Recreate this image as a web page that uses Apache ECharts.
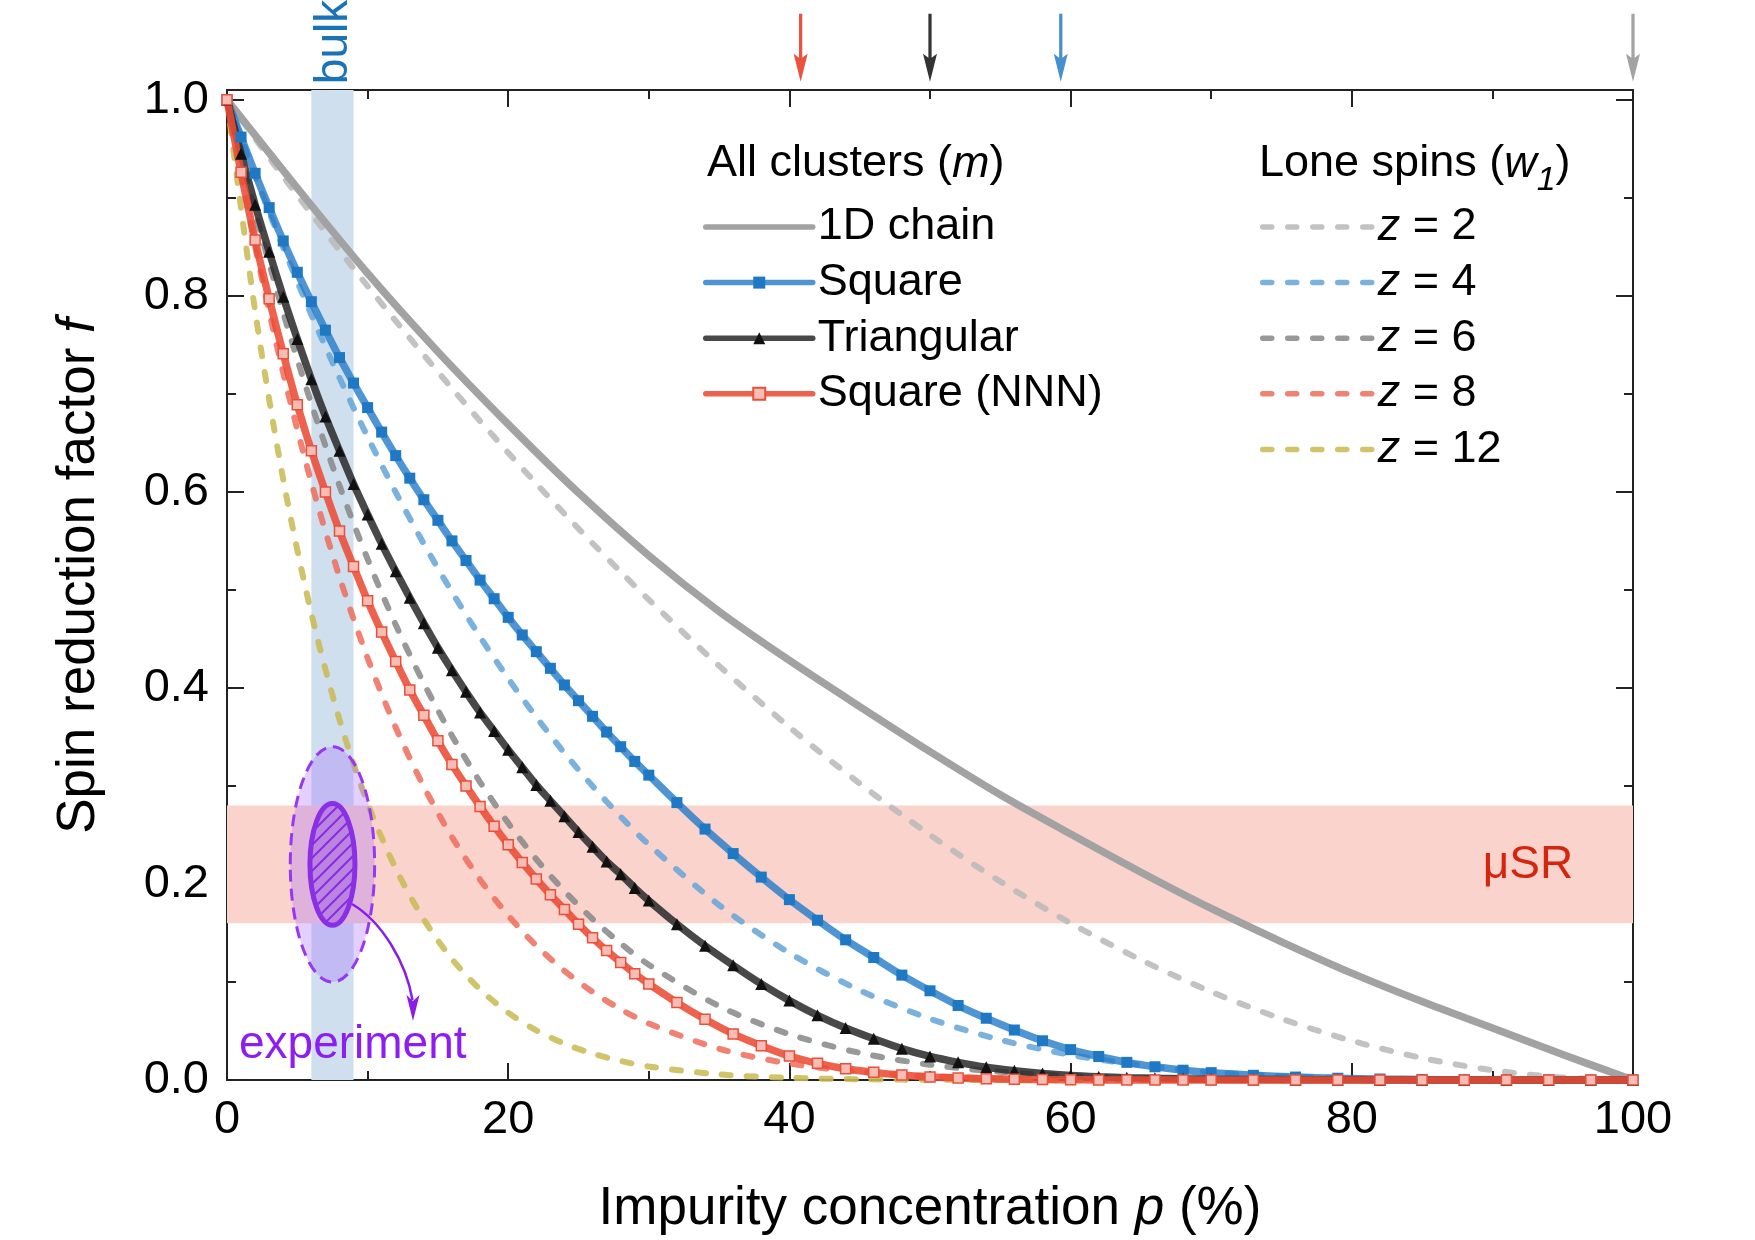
<!DOCTYPE html>
<html>
<head>
<meta charset="utf-8">
<script src="https://cdn.jsdelivr.net/npm/echarts@6.0.0/dist/echarts.min.js"></script>
<style>
html,body{margin:0;padding:0;background:#ffffff;}
#chart{width:1755px;height:1240px;}
</style>
</head>
<body>
<div id="chart"></div>
<script>
// ---------------- values ----------------
// impurity concentration p (%) of the marked "all clusters" curves
const pMarked = [0,1,2,3,4,5,6,7,8,9,10,11,12,13,14,15,16,17,18,19,20,21,22,23,24,25,26,27,28,29,30,
  32,34,36,38,40,42,44,46,48,50,52,54,56,58,60,62,64,66,68,70,
  73,76,79,82,85,88,91,94,97,100];
const fSquare = [1.000,0.962,0.925,0.890,0.856,0.824,0.794,0.765,0.737,0.711,0.686,0.661,0.637,0.614,0.592,0.571,
  0.550,0.530,0.510,0.491,0.472,0.454,0.437,0.420,0.403,0.387,0.371,0.355,0.340,0.325,0.311,
  0.283,0.256,0.231,0.207,0.184,0.163,0.143,0.125,0.107,0.091,0.076,0.063,0.051,0.040,0.031,0.024,0.018,0.0135,0.010,0.0075,
  0.0048,0.003,0.0018,0.001,0.0005,0.0002,0.0001,0,0,0];
const fTriangular = [1.000,0.945,0.893,0.845,0.799,0.756,0.715,0.677,0.642,0.608,0.577,0.547,0.519,0.492,0.466,0.441,
  0.418,0.396,0.375,0.356,0.337,0.319,0.301,0.285,0.269,0.253,0.238,0.223,0.210,0.196,0.183,
  0.159,0.137,0.117,0.098,0.081,0.066,0.053,0.042,0.032,0.024,0.018,0.013,0.0095,0.0067,0.0047,0.0034,0.0024,0.0017,0.0012,0.0008,
  0.0005,0.0003,0.0002,0.0001,0,0,0,0,0,0];
const fSquareNNN = [1.000,0.926,0.857,0.797,0.741,0.689,0.642,0.600,0.560,0.524,0.489,0.457,0.427,0.398,0.372,0.346,
  0.322,0.300,0.279,0.259,0.240,0.222,0.205,0.189,0.174,0.159,0.145,0.132,0.120,0.1085,0.098,
  0.079,0.062,0.047,0.035,0.0245,0.017,0.0115,0.0078,0.005,0.003,0.002,0.0012,0.0007,0.0004,0.0002,0.0001,0,0,0,0,
  0,0,0,0,0,0,0,0,0,0];

// 1D chain (all clusters)
const pChain = [0,5,10,15,20,25,30,35,40,45,50,55,60,65,70,75,80,85,90,95,100];
const fChain = [1.000,0.910,0.823,0.743,0.669,0.599,0.535,0.478,0.428,0.381,0.335,0.291,0.251,0.212,0.175,0.141,0.109,0.080,0.053,0.026,0.000];

// lone spins w1 for coordination numbers z
const pLone = [0,2,4,6,8,10,12,14,16,18,20,22,24,26,28,30,35,40,45,50,55,60,65,70,75,80,85,90,95,100];
const fLoneZ2 = [1,0.9604,0.9216,0.8836,0.8464,0.81,0.7744,0.7396,0.7056,0.6724,0.64,0.6084,0.5776,0.5476,0.5184,0.49,
  0.4225,0.36,0.3025,0.25,0.2025,0.16,0.1225,0.09,0.0625,0.04,0.0225,0.01,0.0025,0];
const fLoneZ4 = [1,0.9224,0.8493,0.7807,0.7164,0.6561,0.5997,0.5470,0.4979,0.4521,0.4096,0.3702,0.3336,0.2999,0.2687,0.2401,
  0.1785,0.1296,0.0915,0.0625,0.0410,0.0256,0.0150,0.0081,0.0039,0.0016,0.0005,0.0001,0,0];
const fLoneZ6 = [1,0.8858,0.7828,0.6899,0.6064,0.5314,0.4644,0.4046,0.3513,0.3040,0.2621,0.2252,0.1927,0.1642,0.1393,0.1176,
  0.0754,0.0467,0.0277,0.0156,0.0083,0.0041,0.0018,0.0007,0.0002,0.0001,0,0,0,0];
const fLoneZ8 = [1,0.8508,0.7214,0.6096,0.5132,0.4305,0.3596,0.2992,0.2479,0.2044,0.1678,0.1370,0.1113,0.0899,0.0722,0.0576,
  0.0319,0.0168,0.0084,0.0039,0.0017,0.0007,0.0002,0.0001,0,0,0,0,0,0];
const fLoneZ12 = [1,0.7847,0.6127,0.4759,0.3677,0.2824,0.2157,0.1637,0.1234,0.0924,0.0687,0.0507,0.0371,0.0270,0.0194,0.0138,
  0.0057,0.0022,0.0008,0.0002,0.0001,0,0,0,0,0,0,0,0,0];

// percolation-threshold arrows above the frame
const thresholdP = [40.8, 50, 59.3, 100];
const thresholdColors = ['#e5250f', '#000000', '#1874c1', '#8c8c8c'];

// shaded bands and experiment ellipse
const bulkRange = [6, 9];
const musrRange = [0.16, 0.28];
const expCenter = [7.5, 0.22];
const expOuterR = [3.0, 0.12];
const expInnerR = [1.6, 0.062];

const xTickStep = 20;
const yTickStep = 0.2;

// ---------------- chart ----------------
const FONT = "'Liberation Sans', Arial, Helvetica, sans-serif";
const chart = echarts.init(document.getElementById('chart'), null, {renderer: 'canvas', width: 1755, height: 1240});

const mctx = document.createElement('canvas').getContext('2d');
function tw(t, size, italic) {
  mctx.font = (italic ? 'italic ' : '') + size + 'px ' + FONT;
  return mctx.measureText(t).width;
}
function textEl(t, x, y, size, italic, color, rot, align) {
  return {
    type: 'text', x: x, y: y, rotation: rot || 0, z: 200, silent: true,
    style: {
      text: t, font: (italic ? 'italic ' : '') + size + 'px ' + FONT, fill: color,
      align: align || 'left', verticalAlign: 'middle',
      textAlign: align || 'left', textVerticalAlign: 'middle'
    }
  };
}
// horizontal segmented text; parts: [text, italic, size, dy]
function hText(x, yMid, parts, size, color, center) {
  let total = 0;
  parts.forEach(p => total += tw(p[0], p[2] || size, p[1]));
  let cur = center ? x - total / 2 : x;
  const els = [];
  parts.forEach(p => {
    const s = p[2] || size;
    els.push(textEl(p[0], cur, yMid + (p[3] || 0), s, p[1], color, 0));
    cur += tw(p[0], s, p[1]);
  });
  return els;
}
// vertical (rotated 90deg, reading upward) segmented text centred at yCenter
function vText(xMid, yCenter, parts, size, color) {
  let total = 0;
  parts.forEach(p => total += tw(p[0], p[2] || size, p[1]));
  let cur = yCenter + total / 2;
  const els = [];
  parts.forEach(p => {
    const s = p[2] || size;
    els.push(textEl(p[0], xMid, cur, s, p[1], color, Math.PI / 2));
    cur -= tw(p[0], s, p[1]);
  });
  return els;
}

// hatch pattern for inner ellipse
const hc = document.createElement('canvas');
hc.width = 13; hc.height = 13;
const hx = hc.getContext('2d');
hx.fillStyle = 'rgba(155,95,228,0.55)';
hx.fillRect(0, 0, 13, 13);
hx.strokeStyle = '#8a2be2';
hx.lineWidth = 2;
hx.beginPath();
hx.moveTo(-1, 14); hx.lineTo(14, -1);
hx.moveTo(-2, 2); hx.lineTo(2, -2);
hx.moveTo(11, 15); hx.lineTo(15, 11);
hx.stroke();
const hatch = {image: hc, repeat: 'repeat'};

const axisCol = '#222222';
function mkX(pos, labels) {
  return {
    type: 'value', min: 0, max: 100, interval: xTickStep, position: pos,
    axisLine: {show: true, onZero: false, lineStyle: {color: axisCol, width: 2}},
    axisTick: {show: true, inside: true, length: 17, lineStyle: {color: axisCol, width: 2}},
    minorTick: {show: true, splitNumber: 2, length: 9, lineStyle: {color: axisCol, width: 2}},
    axisLabel: {show: labels, fontSize: 47, fontFamily: FONT, color: '#000', margin: 17},
    splitLine: {show: false}, minorSplitLine: {show: false}
  };
}
function mkY(pos, labels) {
  return {
    type: 'value', min: 0, max: 1.01, interval: yTickStep, position: pos,
    axisLine: {show: true, onZero: false, lineStyle: {color: axisCol, width: 2}},
    axisTick: {show: true, inside: true, length: 17, lineStyle: {color: axisCol, width: 2}},
    minorTick: {show: true, splitNumber: 2, length: 9, lineStyle: {color: axisCol, width: 2}},
    axisLabel: {show: labels, fontSize: 47, fontFamily: FONT, color: '#000', margin: 18,
      showMaxLabel: false, formatter: v => (Math.abs(v / yTickStep - Math.round(v / yTickStep)) < 1e-6 ? v.toFixed(1) : '')},
    splitLine: {show: false}, minorSplitLine: {show: false}
  };
}

function dashed(name, ys, color) {
  return {
    name: name, type: 'line', z: 3, clip: false, smooth: 0.3,
    data: pLone.map((p, i) => [p, ys[i]]),
    symbol: 'none', showSymbol: false,
    lineStyle: {color: color, width: 6, type: [9, 16], cap: 'round', opacity: 0.88},
    itemStyle: {color: color},
    emphasis: {disabled: true}
  };
}
function marked(name, ys, lineColor, symbol, size, itemStyle) {
  return {
    name: name, type: 'line', z: 4, clip: false, smooth: 0.3,
    data: pMarked.map((p, i) => [p, ys[i]]),
    symbol: symbol, symbolSize: size, showSymbol: true, showAllSymbol: true,
    lineStyle: {color: lineColor, width: 7.5, cap: 'round'},
    itemStyle: itemStyle,
    emphasis: {disabled: true}
  };
}

const series = [
  {
    name: 'bands', type: 'line', data: [], z: 1, silent: true,
    markArea: {
      silent: true, label: {show: false},
      data: [
        [{xAxis: bulkRange[0], itemStyle: {color: '#cfdfed', opacity: 1}}, {xAxis: bulkRange[1]}],
        [{yAxis: musrRange[0], itemStyle: {color: '#f9d3cc', opacity: 1}}, {yAxis: musrRange[1]}]
      ]
    }
  },
  dashed('z = 2', fLoneZ2, '#b9b9b9'),
  dashed('z = 4', fLoneZ4, '#68a6d8'),
  dashed('z = 6', fLoneZ6, '#8a8a8a'),
  dashed('z = 8', fLoneZ8, '#ee7060'),
  dashed('z = 12', fLoneZ12, '#c9bb55'),
  {
    name: '1D chain', type: 'line', z: 4, clip: false, smooth: 0.3,
    data: pChain.map((p, i) => [p, fChain[i]]),
    symbol: 'none', showSymbol: false,
    lineStyle: {color: '#a2a2a2', width: 7.5, cap: 'round'},
    itemStyle: {color: '#a2a2a2'},
    emphasis: {disabled: true}
  },
  marked('Square', fSquare, 'rgba(35,122,200,0.8)', 'rect', 11, {color: '#1f78c4'}),
  marked('Triangular', fTriangular, 'rgba(40,40,40,0.85)', 'triangle', 12, {color: '#111111'}),
  marked('Square (NNN)', fSquareNNN, 'rgba(236,75,52,0.88)', 'rect', 10, {color: '#f7bdb4', borderColor: '#e8503c', borderWidth: 1.5}),
  {
    name: 'experiment', type: 'custom', z: 8, clip: false, silent: true,
    data: [[expCenter[0], expCenter[1], expOuterR[0], expOuterR[1], expInnerR[0], expInnerR[1]]],
    renderItem: function (params, api) {
      const c = api.coord([api.value(0), api.value(1)]);
      const so = api.size([api.value(2), api.value(3)]);
      const si = api.size([api.value(4), api.value(5)]);
      return {
        type: 'group',
        children: [
          {type: 'ellipse', shape: {cx: c[0], cy: c[1], rx: so[0], ry: so[1]},
            style: {fill: 'rgba(168,110,255,0.32)', stroke: '#9638f2', lineWidth: 3, lineDash: [12, 7]}},
          {type: 'ellipse', shape: {cx: c[0], cy: c[1], rx: si[0], ry: si[1]},
            style: {fill: hatch, stroke: '#8b2fe6', lineWidth: 5}}
        ]
      };
    }
  },
  {
    name: 'thresholds', type: 'scatter', z: 10, clip: false, silent: true,
    data: thresholdP.map((p, i) => ({value: [p, 1.053], itemStyle: {color: thresholdColors[i]}})),
    symbol: 'path://M5,0 L8,0 L8,44 L13,40 L6.5,68 L0,40 L5,44 Z',
    symbolSize: [14, 68], symbolKeepAspect: false,
    emphasis: {disabled: true}
  }
];

const legendText = {fontSize: 45, fontFamily: FONT, color: '#000', lineHeight: 45};
const hideDot = {opacity: 0};
const option = {
  animation: false,
  backgroundColor: '#ffffff',
  grid: {left: 227, right: 122, top: 90, bottom: 160, containLabel: false, outerBoundsMode: 'none'},
  xAxis: [mkX('bottom', true), mkX('top', false)],
  yAxis: [mkY('left', true), mkY('right', false)],
  tooltip: {show: false},
  legend: [
    {
      data: [{name: '1D chain', itemStyle: hideDot}, 'Square', 'Triangular', 'Square (NNN)'],
      orient: 'vertical', left: 703, top: 204.5, padding: 0,
      itemWidth: 107, itemHeight: 15, itemGap: 10.6, selectedMode: false,
      lineStyle: {width: 5.5, cap: 'round'},
      textStyle: legendText
    },
    {
      data: ['z = 2', 'z = 4', 'z = 6', 'z = 8', 'z = 12'].map(n => ({name: n, itemStyle: hideDot})),
      orient: 'vertical', left: 1260, top: 204.5, padding: 0,
      itemWidth: 110, itemHeight: 15, itemGap: 10.6, selectedMode: false,
      lineStyle: {width: 5.5, cap: 'round'},
      formatter: n => n.replace('z', '{i|z}'),
      textStyle: Object.assign({}, legendText, {rich: {i: {fontStyle: 'italic', fontSize: 45, fontFamily: FONT, color: '#000', lineHeight: 45}}})
    }
  ],
  series: series
};
chart.setOption(option);

// annotations and titles
const g = [];
hText(707, 164, [['All clusters (', false], ['m', true], [')', false]], 45, '#000').forEach(e => g.push(e));
hText(1259, 164, [['Lone spins (', false], ['w', true], ['1', true, 34, 17], [')', false]], 45, '#000').forEach(e => g.push(e));
hText(930, 1209.5, [['Impurity concentration ', false], ['p', true], [' (%)', false]], 53, '#000', true).forEach(e => g.push(e));
vText(79, 576, [['Spin reduction factor ', false], ['f', true]], 53, '#000').forEach(e => g.push(e));
g.push(textEl('bulk', 334.5, 42, 46, false, '#1a72b9', Math.PI / 2, 'center'));
g.push(textEl('\u03bcSR', 1528, 865.5, 46, false, '#d4260e', 0, 'center'));
g.push(textEl('experiment', 239, 1045, 46, false, '#8d1df0', 0, 'left'));
g.push({
  type: 'bezierCurve', z: 150, silent: true,
  shape: {x1: 352, y1: 904, cpx1: 382, cpy1: 922, cpx2: 406, cpy2: 962, x2: 412.5, y2: 1000},
  style: {stroke: '#8a1ee8', lineWidth: 2.5, fill: null}
});
g.push({
  type: 'polygon', z: 151, silent: true,
  shape: {points: [[406.5, 995], [413, 1001], [419.5, 995], [413, 1021]]},
  style: {fill: '#8a1ee8'}
});
chart.setOption({graphic: {elements: g}});
</script>
</body>
</html>
